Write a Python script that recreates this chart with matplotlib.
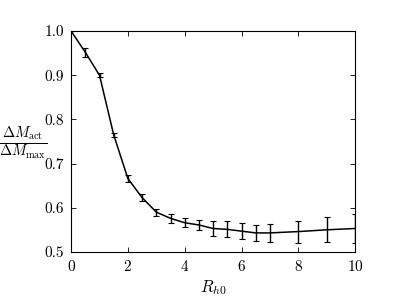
import matplotlib
matplotlib.use("Agg")
import matplotlib.pyplot as plt

rh0 = [0, 0.5, 1, 1.5, 2, 2.5, 3, 3.5, 4, 4.5, 5, 5.5, 6, 6.5, 7, 8, 9, 10]
ratio = [1.0, 0.952, 0.900, 0.765, 0.666, 0.623, 0.590, 0.576, 0.566, 0.561,
         0.553, 0.551, 0.547, 0.543, 0.543, 0.546, 0.550, 0.553]
err = [0.0, 0.010, 0.004, 0.005, 0.007, 0.007, 0.008, 0.010, 0.010, 0.012,
       0.016, 0.018, 0.018, 0.019, 0.021, 0.025, 0.028, 0.032]

plt.rcParams['font.family'] = 'serif'
plt.rcParams['font.serif'] = ['cmr10', 'DejaVu Serif']
plt.rcParams['mathtext.fontset'] = 'cm'
plt.rcParams['axes.formatter.use_mathtext'] = True

fig = plt.figure(figsize=(3.95, 2.96), dpi=100)
ax = fig.add_axes([0.18, 0.149, 0.719, 0.746])
ax.errorbar(rh0, ratio, yerr=err, color='black', lw=1.1, elinewidth=1.0,
            capsize=2.2, capthick=0.8)
ax.set_xlim(0, 10)
ax.set_ylim(0.5, 1.0)
ax.set_xticks([0, 2, 4, 6, 8, 10])
ax.set_yticks([0.5, 0.6, 0.7, 0.8, 0.9, 1.0])
ax.set_yticklabels(['0.5', '0.6', '0.7', '0.8', '0.9', '1.0'])
ax.tick_params(direction='in', top=True, right=True, length=3.5, width=0.6,
               labelsize=11, colors='black', pad=5)
for s in ax.spines.values():
    s.set_linewidth(0.8)
ax.set_xlabel(r'$R_{h0}$', fontsize=12, labelpad=3)
ax.set_ylabel(r'$\frac{\Delta M_{\rm act}}{\Delta M_{\rm max}}$', fontsize=15,
              rotation=0, va='center', ha='center')
ax.yaxis.set_label_coords(-0.168, 0.49)
fig.savefig('out.png', dpi=100)
